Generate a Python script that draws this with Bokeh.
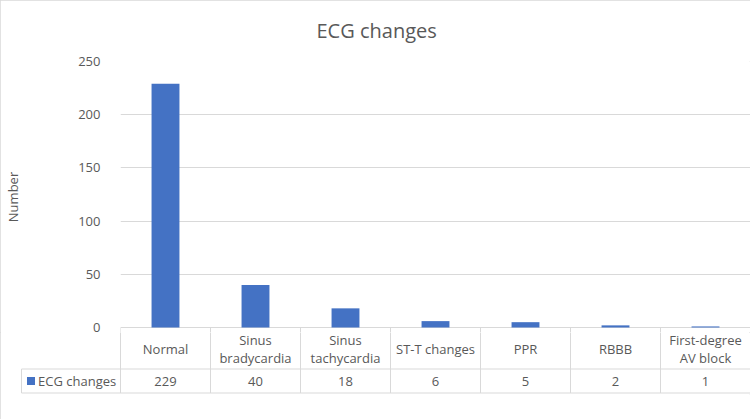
from bokeh.plotting import figure
from bokeh.models import Range1d, FactorRange, FixedTicker, ColumnDataSource
from bokeh.layouts import column
from bokeh.embed import file_html
from bokeh.resources import INLINE
from bokeh.core.properties import value

# ---- data ----
categories = ["Normal", "Sinus bradycardia", "Sinus tachycardia", "ST-T changes",
              "PPR", "RBBB", "First-degree AV block"]
header_labels = ["Normal", "Sinus\nbradycardia", "Sinus\ntachycardia", "ST-T changes",
                 "PPR", "RBBB", "First-degree\nAV block"]
counts = [229, 40, 18, 6, 5, 2, 1]
series_name = "ECG changes"
chart_title = "ECG changes"
y_label = "Number"
y_ticks = [0, 50, 100, 150, 200, 250]

FONT = "Open Sans"
TXT = "#595959"
GRID = "#D9D9D9"
BAR = "#4472C4"

# ---- chart ----
p = figure(width=750, height=332, x_range=FactorRange(*categories), y_range=Range1d(-4.7, 250),
           output_backend="svg", toolbar_location=None, x_axis_location=None,
           min_border_left=120, min_border_right=0, min_border_top=61, min_border_bottom=0,
           outline_line_color=None, title=chart_title, frame_align=False)
p.title.align = "left"
p.title.vertical_align = "top"
p.title.offset = 196
p.title.text_font = FONT
p.title.text_font_size = "20px"
p.title.text_font_style = "normal"
p.title.text_color = TXT
p.title.standoff = 31

p.xgrid.visible = False
p.ygrid.grid_line_color = GRID
p.ygrid.ticker = FixedTicker(ticks=y_ticks)
ax = p.yaxis[0]
ax.ticker = FixedTicker(ticks=y_ticks)
ax.axis_line_color = None
ax.major_tick_line_color = None
ax.minor_tick_line_color = None
ax.major_label_text_font = FONT
ax.major_label_text_font_size = "13px"
ax.major_label_text_color = TXT
ax.major_label_standoff = 14
ax.axis_label = y_label
ax.axis_label_text_font = FONT
ax.axis_label_text_font_size = "13px"
ax.axis_label_text_font_style = "normal"
ax.axis_label_text_color = TXT
ax.axis_label_standoff = 53

src = ColumnDataSource(dict(cat=categories, n=counts))
p.vbar(x="cat", top="n", width=0.31, source=src, fill_color=BAR, line_color=None)

# table header cell borders that reach into the chart area (below the zero line)
bounds = [(c, -0.5) for c in categories] + [(categories[-1], 0.5)]
p.segment(x0=bounds, y0=[0] * len(bounds), x1=bounds, y1=[-10] * len(bounds),
          line_color=GRID, line_width=1)

# ---- data table ----
ncat = len(categories)
t = figure(width=750, height=87, x_range=Range1d(-1.1 - 1 / 90, ncat), y_range=Range1d(-1.5, 60.5),
           output_backend="svg", toolbar_location=None, x_axis_location=None, y_axis_location=None,
           min_border_left=20, min_border_right=0, min_border_top=0, min_border_bottom=25,
           outline_line_color=None, frame_align=False)
t.grid.visible = False

x0 = [-1.1, -1.1] + list(range(ncat + 1)) + [-1.1]
x1 = [ncat, ncat] + list(range(ncat + 1)) + [-1.1]
y0 = [24, 0] + [0] * (ncat + 1) + [0]
y1 = [24, 0] + [65] * (ncat + 1) + [24]
t.segment(x0=x0, y0=y0, x1=x1, y1=y1, line_color=GRID, line_width=1)

xc = [i + 0.5 for i in range(ncat)]
t.text(x=xc, y=[44] * ncat, text=header_labels, text_font=value(FONT), text_font_size="13px",
       text_color=TXT, text_align="center", text_baseline="middle", text_line_height=1.0)
t.text(x=xc, y=[12] * ncat, text=[str(c) for c in counts], text_font=value(FONT),
       text_font_size="13px", text_color=TXT, text_align="center", text_baseline="middle")
t.scatter(x=[-1.1 + 9.5 / 90], y=[12], marker="square", size=8, fill_color=BAR, line_color=None)
t.text(x=[-1.1 + 16.5 / 90], y=[12], text=[series_name], text_font=value(FONT), text_font_size="13px",
       text_color=TXT, text_align="left", text_baseline="middle")

layout = column(p, t, styles={"outline": "1px solid #D9D9D9", "outline-offset": "-1px"})
open("out.html", "w").write(file_html(layout, INLINE))
